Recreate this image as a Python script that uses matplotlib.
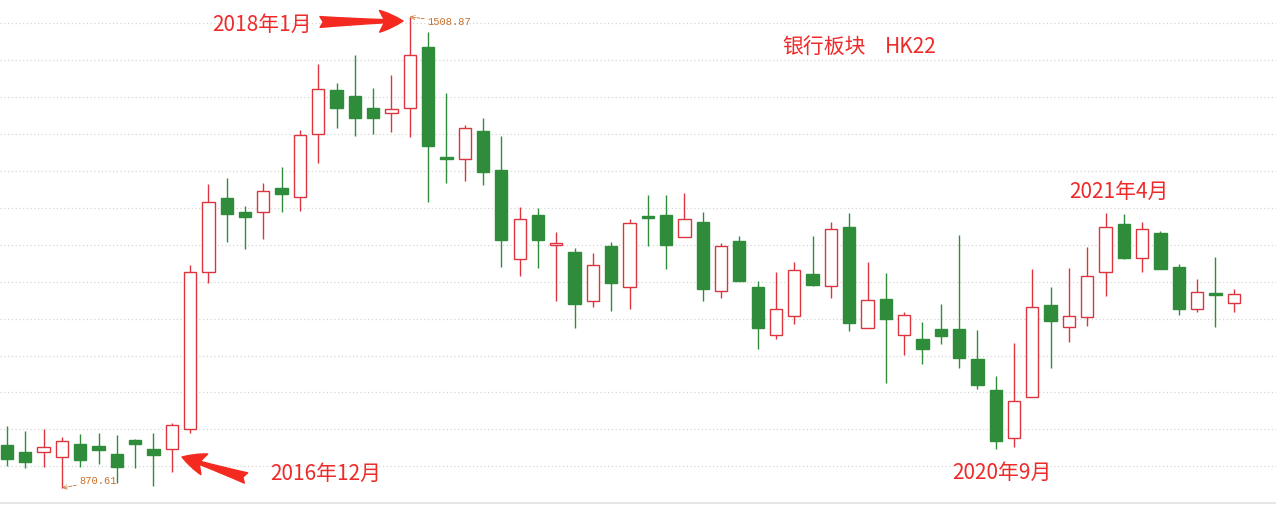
import matplotlib
matplotlib.use('Agg')
import matplotlib.pyplot as plt

plt.rcParams['font.family'] = ['Noto Sans CJK SC', 'DejaVu Sans']

# monthly candles, HK22 bank index
opens = [928.9, 919.4, 919.4, 912.6, 930.2, 927.5, 916.7, 935.7, 923.5, 923.5,
         950.6, 1163.2, 1263.4, 1244.5, 1244.5, 1277.0, 1264.8, 1350.1, 1409.7, 1401.6,
         1385.3, 1378.5, 1385.3, 1467.9, 1319.0, 1316.3, 1354.2, 1301.4, 1180.8, 1240.4,
         1200.4, 1190.3, 1123.9, 1198.4, 1142.9, 1239.0, 1240.4, 1210.6, 1230.9, 1137.5,
         1205.2, 1142.9, 1077.9, 1103.6, 1160.5, 1144.2, 1224.2, 1087.4, 1126.6, 1077.9,
         1072.5, 1086.0, 1086.0, 1045.4, 1003.4, 938.4, 993.9, 1118.5, 1088.7, 1102.3,
         1163.2, 1228.2, 1182.2, 1216.0, 1170.0, 1113.1, 1134.8, 1121.2]
highs = [954.6, 947.9, 950.6, 939.7, 943.8, 945.1, 942.4, 937.0, 945.1, 958.7,
         1172.7, 1282.4, 1290.5, 1252.6, 1283.7, 1305.4, 1355.5, 1444.9, 1419.2, 1457.1,
         1412.4, 1430.0, 1508.87, 1488.3, 1405.6, 1362.3, 1371.8, 1347.4, 1251.2, 1249.9,
         1217.4, 1195.7, 1188.9, 1203.8, 1235.0, 1267.5, 1267.5, 1270.2, 1244.5, 1202.5,
         1212.0, 1151.0, 1163.2, 1176.8, 1212.0, 1230.9, 1243.1, 1176.8, 1161.9, 1109.0,
         1095.5, 1119.9, 1213.3, 1084.6, 1022.4, 1067.0, 1167.3, 1142.9, 1168.6, 1197.1,
         1243.1, 1241.8, 1230.9, 1218.7, 1174.0, 1153.7, 1183.5, 1140.2]
lows = [900.5, 897.7, 899.1, 870.61, 899.1, 903.2, 877.4, 897.7, 873.4, 892.3,
        945.1, 1148.3, 1203.8, 1194.4, 1207.9, 1244.5, 1245.8, 1310.8, 1358.2, 1347.4,
        1350.1, 1352.8, 1346.0, 1258.0, 1283.7, 1286.5, 1281.0, 1170.0, 1157.8, 1168.6,
        1123.9, 1087.4, 1115.8, 1110.4, 1113.1, 1198.4, 1167.3, 1210.6, 1123.9, 1128.0,
        1151.0, 1058.9, 1072.5, 1092.8, 1144.2, 1128.0, 1083.3, 1087.4, 1012.9, 1050.8,
        1038.6, 1065.7, 1033.2, 1004.7, 923.5, 926.2, 993.9, 1033.2, 1068.4, 1090.1,
        1130.7, 1180.8, 1163.2, 1167.3, 1105.0, 1109.0, 1088.7, 1109.0]
closes = [909.9, 905.9, 926.2, 934.3, 908.6, 922.1, 899.1, 930.2, 915.3, 956.0,
          1163.2, 1258.0, 1241.8, 1237.7, 1272.9, 1268.8, 1348.8, 1411.1, 1385.3, 1371.8,
          1371.8, 1384.0, 1457.1, 1333.9, 1316.3, 1358.2, 1298.6, 1206.5, 1235.0, 1206.5,
          1201.8, 1119.9, 1172.7, 1148.3, 1229.6, 1236.3, 1199.8, 1235.0, 1140.2, 1198.4,
          1151.0, 1087.4, 1113.1, 1165.9, 1145.6, 1221.4, 1094.1, 1125.3, 1099.6, 1105.0,
          1058.9, 1076.5, 1046.7, 1010.2, 934.3, 988.5, 1115.8, 1096.8, 1103.6, 1157.8,
          1224.2, 1182.2, 1221.4, 1167.3, 1113.1, 1136.1, 1132.0, 1133.4]

RED = '#dc3540'
GREEN = '#2f8c3a'
TXT = '#ee2a2a'
NUM = '#c8702a'

W, H = 1276, 507
fig = plt.figure(figsize=(W / 100, H / 100), dpi=100)
ax = fig.add_axes([0, 0, 1, 1])

# grid
for lvl in range(900, 1501, 50):
    ax.axhline(lvl, color='#d6d6d6', lw=0.9, ls=(0, (1, 2)), zorder=0)
ax.axhline(850, color='#e2e2e2', lw=1.2, zorder=0)

# candles
bw = 0.67
for i in range(len(opens)):
    o, h, l, c = opens[i], highs[i], lows[i], closes[i]
    up = c >= o
    col = RED if up else GREEN
    ax.vlines(i, l, h, color=col, lw=1.0, zorder=1)
    bot = min(o, c)
    hgt = max(abs(c - o), 1.6)
    ax.bar(i, hgt, bottom=bot, width=bw, color='white' if up else GREEN,
           edgecolor=col, lw=1.0, zorder=2)

ax.set_xlim(-0.382, 69.31)
ax.set_ylim(844.9, 1531.6)
ax.axis('off')


def fp(x, y):
    # pixel position in the picture -> figure fraction
    return x / W, 1 - y / H


# labels
fig.text(*fp(212, 25), '2018年1月', color=TXT, fontsize=15, va='center')
fig.text(*fp(270, 474), '2016年12月', color=TXT, fontsize=15, va='center')
fig.text(*fp(952, 473), '2020年9月', color=TXT, fontsize=15, va='center')
fig.text(*fp(1069, 192), '2021年4月', color=TXT, fontsize=15, va='center')
fig.text(*fp(782, 47), '银行板块', color=TXT, fontsize=15, va='center')
fig.text(*fp(885, 47), 'HK22', color=TXT, fontsize=15, va='center')

# red arrows
arr = dict(arrowstyle='fancy,head_length=0.65,head_width=0.6,tail_width=0.3',
           color='#f42a20', mutation_scale=26, shrinkA=0, shrinkB=0)
ax.annotate('', xy=fp(403, 21), xytext=fp(320, 22),
            xycoords='figure fraction', textcoords='figure fraction', arrowprops=arr)
ax.annotate('', xy=fp(182, 457), xytext=fp(246, 478),
            xycoords='figure fraction', textcoords='figure fraction', arrowprops=arr)

# extreme values
num = dict(arrowstyle='->', color=NUM, lw=0.6, ls='--', shrinkA=0, shrinkB=0)
ax.annotate('1508.87', xy=(22, 1508.87), xytext=fp(427, 22),
            textcoords='figure fraction', color=NUM, fontsize=7.5,
            family='Liberation Mono', va='center', arrowprops=num)
ax.annotate('870.61', xy=(3, 870.61), xytext=fp(79, 481),
            textcoords='figure fraction', color=NUM, fontsize=7.5,
            family='Liberation Mono', va='center', arrowprops=num)

fig.savefig('out.png', dpi=100)
